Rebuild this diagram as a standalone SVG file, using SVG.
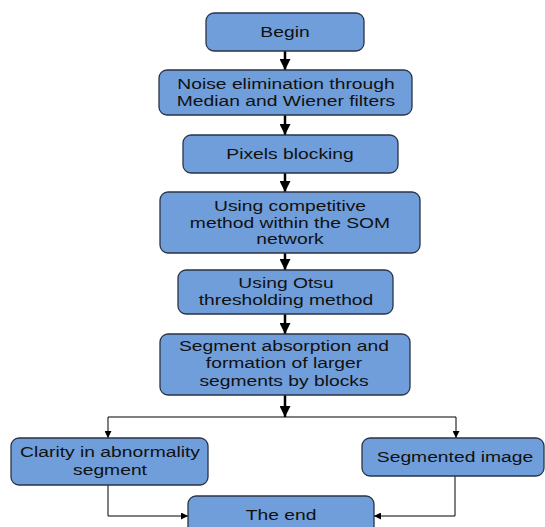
<svg xmlns="http://www.w3.org/2000/svg" width="545" height="527" viewBox="0 0 545 527">
<style>
.box{fill:#6f9edb;stroke:#2a3547;stroke-width:1.3}
.t{font-family:"Liberation Sans",Arial,sans-serif;font-size:14.5px;fill:#111;text-anchor:middle}
.thick{stroke:#000;stroke-width:2.5;fill:none}
.thin{stroke:#000;stroke-width:1;fill:none}
</style>
<defs>
<marker id="ah" viewBox="0 0 10 10" refX="10" refY="5" markerWidth="4.4" markerHeight="4.4" markerUnits="strokeWidth" orient="auto"><path d="M0,0 L10,5 L0,10 z" fill="#000"/></marker>
<marker id="ahs" viewBox="0 0 10 10" refX="10" refY="5" markerWidth="8" markerHeight="7" markerUnits="strokeWidth" orient="auto"><path d="M0,0 L10,5 L0,10 z" fill="#000"/></marker>
</defs>
<g id="connectors">
<line class="thick" x1="285" y1="51" x2="285" y2="70" marker-end="url(#ah)"/>
<line class="thick" x1="285" y1="115" x2="285" y2="135" marker-end="url(#ah)"/>
<line class="thick" x1="285" y1="173" x2="285" y2="192" marker-end="url(#ah)"/>
<line class="thick" x1="285" y1="253" x2="285" y2="270" marker-end="url(#ah)"/>
<line class="thick" x1="285" y1="314" x2="285" y2="334" marker-end="url(#ah)"/>
<line class="thick" x1="285" y1="395" x2="285" y2="417" marker-end="url(#ah)"/>
<line class="thin" x1="108" y1="417" x2="456" y2="417"/>
<line class="thin" x1="108" y1="417" x2="108" y2="438" marker-end="url(#ahs)"/>
<line class="thin" x1="456" y1="417" x2="456" y2="438" marker-end="url(#ahs)"/>
<polyline class="thin" points="108,485 108,516 188,516" marker-end="url(#ahs)"/>
<polyline class="thin" points="455,476 455,516 374,516" marker-end="url(#ahs)"/>
</g>
<g id="begin"><rect class="box" x="206" y="13" width="158" height="38" rx="8"/><text class="t" transform="translate(285,37) scale(1.33,1)">Begin</text></g>
<g id="noise"><rect class="box" x="159" y="70" width="253" height="45" rx="8"/><text class="t" transform="translate(286,89) scale(1.33,1)">Noise elimination through</text><text class="t" transform="translate(286,106) scale(1.33,1)">Median and Wiener filters</text></g>
<g id="pixels"><rect class="box" x="183" y="135" width="215" height="38" rx="8"/><text class="t" transform="translate(290,159) scale(1.33,1)">Pixels blocking</text></g>
<g id="som"><rect class="box" x="160" y="192" width="260" height="61" rx="8"/><text class="t" transform="translate(290,211) scale(1.33,1)">Using competitive</text><text class="t" transform="translate(290,228) scale(1.33,1)">method within the SOM</text><text class="t" transform="translate(290,244) scale(1.33,1)">network</text></g>
<g id="otsu"><rect class="box" x="178" y="270" width="215" height="44" rx="8"/><text class="t" transform="translate(286,288) scale(1.33,1)">Using Otsu</text><text class="t" transform="translate(286,305) scale(1.33,1)">thresholding method</text></g>
<g id="segment"><rect class="box" x="160" y="334" width="250" height="61" rx="8"/><text class="t" transform="translate(284,351) scale(1.33,1)">Segment absorption and</text><text class="t" transform="translate(284,368) scale(1.33,1)">formation of larger</text><text class="t" transform="translate(284,386) scale(1.33,1)">segments by blocks</text></g>
<g id="clarity"><rect class="box" x="11" y="438" width="197" height="47" rx="8"/><text class="t" transform="translate(110,457) scale(1.33,1)">Clarity in abnormality</text><text class="t" transform="translate(110,475) scale(1.33,1)">segment</text></g>
<g id="segmented"><rect class="box" x="362" y="438" width="182" height="38" rx="8"/><text class="t" transform="translate(455,462) scale(1.33,1)">Segmented image</text></g>
<g id="end"><rect class="box" x="188" y="496" width="186" height="40" rx="8"/><text class="t" transform="translate(281,520) scale(1.33,1)">The end</text></g>
</svg>
